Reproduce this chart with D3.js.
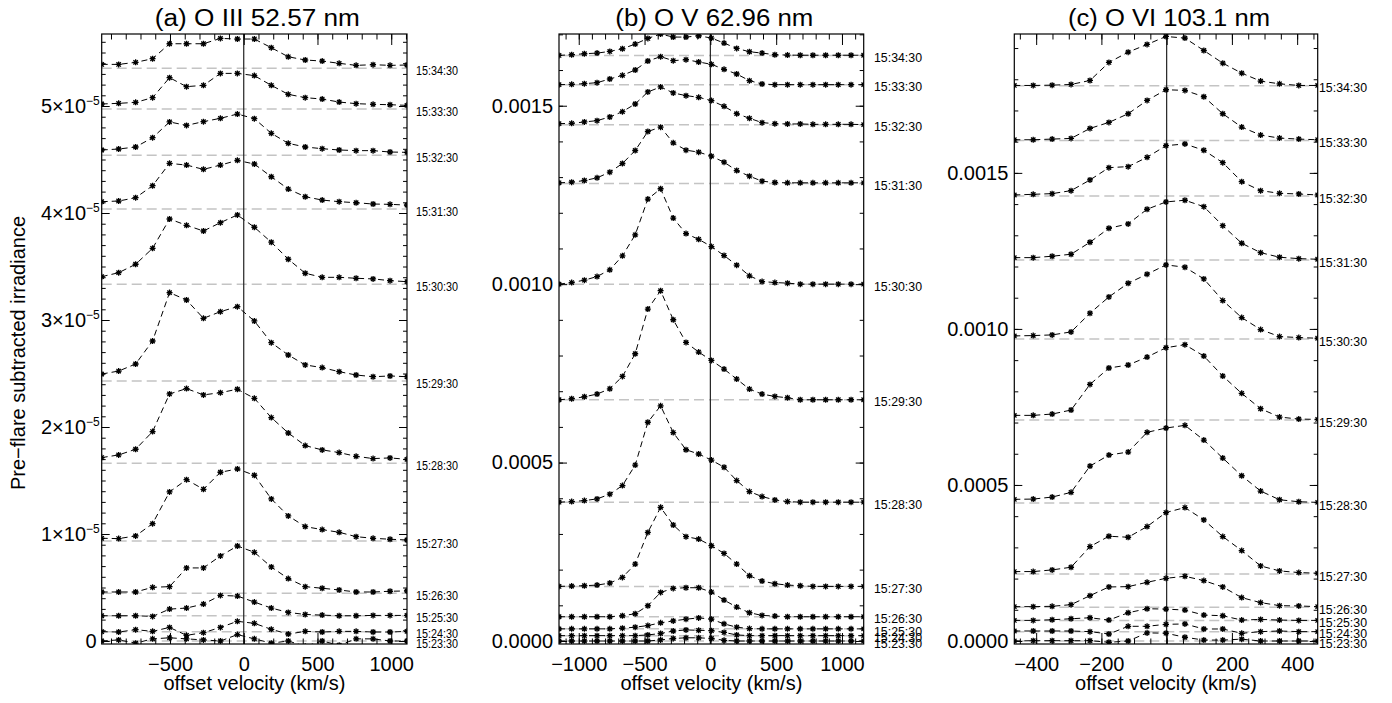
<!DOCTYPE html>
<html><head><meta charset="utf-8">
<script src="https://cdn.jsdelivr.net/npm/d3@7"></script>
<style>
body{margin:0;background:#fff}
svg{display:block}
text{font-family:"Liberation Sans",Arial,Helvetica,sans-serif;fill:#000}
</style>
</head><body>
<svg id="chart" width="1392" height="703"></svg>
<script>
// ---------------- DATA ----------------
const times = ["15:23:30","15:24:30","15:25:30","15:26:30","15:27:30","15:28:30",
               "15:29:30","15:30:30","15:31:30","15:32:30","15:33:30","15:34:30"];

// Panel (a) O III 52.57 nm  — irradiance in units of 1e-5
const velA = [-963,-848,-733,-618,-503,-388,-273,-158,-43,72,187,302,417,532,647,762,877,992,1107];
const offsetA = [0,0.087,0.236,0.446,0.935,1.661,2.430,3.334,4.037,4.539,4.972,5.352];
const profA = [
  [0,0.01,-0.02,0.02,0.03,0.02,0.01,0.0,0.06,0.02,-0.02,0.0,-0.05,0.0,-0.04,0.02,0.02,0.0,0.0],
  [0,-0.003,0.019,0.003,0.040,-0.034,-0.009,0.040,0.097,0.078,0.022,-0.022,0.003,-0.003,0.003,0.003,-0.003,-0.003,0.003],
  [0,0,0,-0.006,0.062,0.072,0.109,0.190,0.184,0.128,0.072,0.031,0.012,0.006,0,0,0.003,0.003,0.003],
  [0.012,0.012,0.012,0.056,0.062,0.237,0.237,0.349,0.442,0.383,0.246,0.137,0.062,0.047,0.031,0.012,0.012,0.019,0.022],
  [0.025,0.022,0.047,0.162,0.458,0.573,0.483,0.642,0.673,0.614,0.393,0.234,0.134,0.106,0.081,0.040,0.025,0.016,0.009],
  [0.053,0.078,0.131,0.296,0.648,0.698,0.639,0.660,0.692,0.607,0.427,0.283,0.165,0.125,0.100,0.065,0.044,0.050,0.037],
  [0.065,0.093,0.159,0.374,0.826,0.757,0.586,0.648,0.695,0.561,0.358,0.243,0.150,0.125,0.087,0.056,0.040,0.047,0.040],
  [0.071,0.108,0.187,0.336,0.610,0.551,0.498,0.576,0.648,0.533,0.393,0.234,0.103,0.065,0.065,0.056,0.050,0.034,0.024],
  [0.069,0.075,0.106,0.218,0.427,0.411,0.371,0.411,0.455,0.421,0.302,0.187,0.115,0.084,0.069,0.059,0.047,0.044,0.037],
  [0.050,0.059,0.078,0.165,0.312,0.280,0.315,0.346,0.386,0.343,0.206,0.112,0.078,0.062,0.050,0.044,0.044,0.031,0.028],
  [0.047,0.053,0.062,0.106,0.293,0.209,0.221,0.333,0.333,0.312,0.221,0.137,0.106,0.093,0.065,0.050,0.044,0.040,0.034],
  [0.037,0.037,0.056,0.090,0.230,0.230,0.230,0.280,0.274,0.274,0.193,0.108,0.078,0.068,0.047,0.028,0.034,0.028,0.031]
];

// Panel (b) O V 62.96 nm — irradiance in units of 1e-4
const velB = [-1150,-1054,-957,-861,-764,-668,-571,-475,-378,-282,-185,-89,8,104,200,297,393,490,586,683,779,876,972,1069,1165];
const offsetB = [0,0.15,0.34,0.68,1.53,3.89,6.76,10.00,12.82,14.47,15.59,16.41];
const profB = [
  [0,0,0,0,0,0,0,0,0.03,0.07,0.09,0.09,0.07,0.02,0,0,0,0,0,0,0,0,0,0,0],
  [0,0,0,0,0,0,0,0.02,0.06,0.13,0.16,0.15,0.14,0.09,0.02,0,0,0,0,0,0,0,0,0,0],
  [0,0,0,0,0,0.019,0.047,0.093,0.168,0.224,0.271,0.308,0.271,0.140,0.047,0.009,0,0,0,0,0,0,0,0,0],
  [0,0,0,0,0,0.028,0.084,0.308,0.682,0.794,0.813,0.813,0.692,0.467,0.271,0.112,0.037,0.019,0,0,0,0,0,0,0],
  [0,0.009,0.019,0.037,0.093,0.252,0.626,1.514,2.215,1.720,1.393,1.327,1.140,0.925,0.626,0.299,0.150,0.075,0.037,0.019,0,0,0,0,0],
  [0,0.017,0.045,0.092,0.224,0.466,1.04,2.24,2.70,1.95,1.47,1.35,1.18,0.98,0.606,0.297,0.157,0.064,0.017,0,0,0,0,0,0],
  [0,0.028,0.084,0.159,0.308,0.654,1.290,2.542,3.056,2.243,1.607,1.336,1.103,0.860,0.579,0.299,0.159,0.093,0.056,0,0,0,0,0,0],
  [0,0.045,0.112,0.213,0.401,0.794,1.383,2.384,2.673,1.851,1.416,1.256,1.054,0.802,0.533,0.233,0.073,0.045,0.028,0,0,0,0,0,0],
  [0.019,0.037,0.084,0.159,0.318,0.561,0.925,1.458,1.579,1.140,0.935,0.879,0.766,0.598,0.364,0.206,0.065,0.028,0.019,0.019,0.019,0.019,0.019,0.019,0.019],
  [0.028,0.037,0.075,0.112,0.215,0.364,0.579,0.916,1.056,0.888,0.813,0.766,0.673,0.514,0.308,0.178,0.056,0.028,0.019,0.019,0.009,0.009,0.009,0.009,0],
  [0,0.009,0.028,0.056,0.159,0.262,0.411,0.664,0.785,0.673,0.701,0.636,0.570,0.430,0.299,0.112,0.019,0,0,0,0,0,0,0,0],
  [0,0.019,0.047,0.065,0.112,0.187,0.318,0.477,0.598,0.514,0.514,0.551,0.486,0.346,0.196,0.103,0.065,0.019,0.009,0.005,0.005,0.005,0.005,0.005,0.005]
];

// Panel (c) O VI 103.1 nm — irradiance in units of 1e-4
const velC = [-467,-409,-351,-293,-235,-177,-118,-60,-2,56,114,172,230,288,346,405,463];
const offsetC = [0,0.30,0.66,1.08,2.15,4.42,7.08,9.68,12.21,14.26,16.04,17.79];
const profC = [
  [0,0.01,0.01,0.01,0.01,-0.04,0,0.26,0.25,0.12,0.03,0.03,0.06,0,0,0,0],
  [0.021,0.021,0.021,0.021,0,-0.075,0.171,0.171,0.235,0.246,0.085,0.085,-0.053,0,0.021,0,0],
  [0,0,0.021,0.053,0.085,0.011,0.246,0.374,0.363,0.331,0.171,0.150,0.011,0.032,0.011,0,0],
  [0.021,0.021,0.032,0.085,0.374,0.652,0.662,0.801,0.929,0.994,0.855,0.652,0.310,0.150,0.053,0.043,0.021],
  [0.075,0.075,0.128,0.214,0.876,1.207,1.175,1.517,1.966,2.126,1.731,1.197,0.748,0.256,0.096,0.043,0.021],
  [0.119,0.128,0.192,0.343,1.186,1.538,1.635,2.266,2.404,2.490,2.019,1.442,0.875,0.385,0.106,0.042,0.022],
  [0.150,0.150,0.192,0.321,1.143,1.667,1.763,2.019,2.318,2.415,2.051,1.410,0.855,0.363,0.096,0.032,0.021],
  [0.096,0.107,0.128,0.224,0.823,1.346,1.784,2.073,2.372,2.297,1.923,1.229,0.684,0.299,0.075,0.043,0.021],
  [0.074,0.074,0.119,0.183,0.567,1.016,1.154,1.625,1.859,1.913,1.708,1.099,0.535,0.234,0.087,0.042,0.022],
  [0.032,0.053,0.075,0.171,0.513,0.908,0.940,1.239,1.613,1.667,1.464,1.068,0.459,0.171,0.085,0.064,0.032],
  [0.021,0.021,0.043,0.064,0.385,0.577,0.855,1.282,1.624,1.603,1.400,0.855,0.427,0.171,0.075,0.043,0.021],
  [0.011,0.011,0.021,0.043,0.171,0.748,1.079,1.325,1.581,1.528,1.132,0.726,0.406,0.150,0.064,0.011,0.011]
];

const titles = ["(a)  O III 52.57 nm", "(b)  O V 62.96 nm", "(c)  O VI 103.1 nm"];
const xTicksA = [-500,0,500,1000];
const xTicksB = [-1000,-500,0,500,1000];
const xTicksC = [-400,-200,0,200,400];
const yTicksA = [0,1,2,3,4,5];      // ×1e-5
const yTicksB = [0,5,10,15];        // ×1e-4
const yTicksC = [0,5,10,15];        // ×1e-4
const xTitle = "offset velocity (km/s)";
const yTitle = "Pre\u2212flare subtracted irradiance";

// ---------------- LAYOUT ----------------
const svg = d3.select("#chart");
const T = 34, B = 644;
const panels = [
  {id:"a", x0:101.7, x1:407,   vel:velA, off:offsetA, prof:profA, yDom:[-0.028,5.673],
   xTicks:xTicksA, xMinorStep:100, yTicks:yTicksA, yMinorStep:0.1, title:titles[0], titleLen:205,
   labX:416, labLen:42, labSize:12.5, yPad:2},
  {id:"b", x0:559,   x1:863.7, vel:velB, off:offsetB, prof:profB, yDom:[-0.084,17.01],
   xTicks:xTicksB, xMinorStep:100, yTicks:yTicksB, yMinorStep:1, title:titles[1], titleLen:198,
   labX:874, labLen:48, labSize:12.5, yPad:6},
  {id:"c", x0:1014.3,x1:1317.7,vel:velC, off:offsetC, prof:profC, yDom:[-0.096,19.45],
   xTicks:xTicksC, xMinorStep:50, yTicks:yTicksC, yMinorStep:1, title:titles[2], titleLen:202,
   labX:1319, labLen:48, labSize:12.5, yPad:6}
];

const star = "M-3,0L3,0M0,-3L0,3M-2.2,-2.2L2.2,2.2M-2.2,2.2L2.2,-2.2";

function styleAxis(sel, size){
  sel.select(".domain").remove();
  sel.attr("font-family", null).attr("font-size", null);
  sel.selectAll("line").attr("stroke","#000").attr("stroke-width",1);
  sel.selectAll("text").attr("font-size", size).attr("fill","#000");
}

panels.forEach(p => {
  const g = svg.append("g");
  const n = p.vel.length;
  const x = d3.scaleLinear().domain([p.vel[0], p.vel[n-1]]).range([p.x0, p.x1]);
  const y = d3.scaleLinear().domain(p.yDom).range([B, T]);

  svg.append("clipPath").attr("id","clip"+p.id).append("rect")
     .attr("x",p.x0).attr("y",T).attr("width",p.x1-p.x0).attr("height",B-T);
  const plot = g.append("g").attr("clip-path",`url(#clip${p.id})`);

  // baselines
  plot.selectAll(".base").data(p.off).enter().append("line")
    .attr("x1",p.x0).attr("x2",p.x1).attr("y1",d=>y(d)).attr("y2",d=>y(d))
    .attr("stroke","#c4c4c4").attr("stroke-width",1.5).attr("stroke-dasharray","10,5");

  // zero velocity line
  plot.append("line").attr("x1",x(0)).attr("x2",x(0)).attr("y1",T).attr("y2",B)
    .attr("stroke","#222").attr("stroke-width",1.2);

  const line = d3.line().x((d,i)=>x(p.vel[i])).y(d=>y(d));
  p.prof.forEach((pr,k) => {
    const vals = pr.map(v => v + p.off[k]);
    plot.append("path").attr("d", line(vals)).attr("fill","none")
      .attr("stroke","#000").attr("stroke-width",1).attr("stroke-dasharray","6,4");
    plot.selectAll(null).data(vals).enter().append("path")
      .attr("transform",(d,i)=>`translate(${x(p.vel[i])},${y(d)})`)
      .attr("d",star).attr("stroke","#000").attr("stroke-width",1.3).attr("fill","none");
  });

  // axes
  const xMinor = d3.range(Math.ceil(p.vel[0]/p.xMinorStep)*p.xMinorStep, p.vel[n-1]+1, p.xMinorStep);
  const yMinor = d3.range(0, p.yDom[1], p.yMinorStep).map(v=>+v.toFixed(4));

  const bot = g.append("g").attr("transform",`translate(0,${B})`)
    .call(d3.axisBottom(x).tickValues(p.xTicks).tickSize(-11).tickPadding(12.8).tickFormat(d3.format("d")));
  styleAxis(bot, 20);
  styleAxis(g.append("g").attr("transform",`translate(0,${B})`)
    .call(d3.axisBottom(x).tickValues(xMinor).tickSize(-5.5).tickFormat("")), 20);
  styleAxis(g.append("g").attr("transform",`translate(0,${T})`)
    .call(d3.axisTop(x).tickValues(p.xTicks).tickSize(-11).tickFormat("")), 20);
  styleAxis(g.append("g").attr("transform",`translate(0,${T})`)
    .call(d3.axisTop(x).tickValues(xMinor).tickSize(-5.5).tickFormat("")), 20);

  const fmtY = p.id === "a" ? (d => d) : (d => (d*1e-4).toFixed(4));
  const left = g.append("g").attr("transform",`translate(${p.x0},0)`)
    .call(d3.axisLeft(y).tickValues(p.yTicks).tickSize(-8).tickPadding(p.yPad).tickFormat(fmtY));
  styleAxis(left, 20);
  if (p.id === "a") {
    left.selectAll("text").each(function(d){
      const t = d3.select(this);
      if (d === 0) { t.attr("dx", -3).text("0"); return; }
      t.text(null);
      t.append("tspan").text(d + "\u00d710");
      t.append("tspan").attr("dy",-8).attr("font-size",12).text("\u22125");
    });
  }
  styleAxis(g.append("g").attr("transform",`translate(${p.x0},0)`)
    .call(d3.axisLeft(y).tickValues(yMinor).tickSize(-4).tickFormat("")), 20);
  styleAxis(g.append("g").attr("transform",`translate(${p.x1},0)`)
    .call(d3.axisRight(y).tickValues(p.yTicks).tickSize(-8).tickFormat("")), 20);
  styleAxis(g.append("g").attr("transform",`translate(${p.x1},0)`)
    .call(d3.axisRight(y).tickValues(yMinor).tickSize(-4).tickFormat("")), 20);

  // frame
  g.append("rect").attr("x",p.x0).attr("y",T).attr("width",p.x1-p.x0).attr("height",B-T)
    .attr("fill","none").attr("stroke","#000").attr("stroke-width",1.2);

  // time labels
  g.selectAll(".lab").data(p.off).enter().append("text")
    .attr("x",p.labX).attr("y",d=>y(d)+2.3).attr("dy","0.35em")
    .attr("font-size",p.labSize).attr("textLength",p.labLen).attr("lengthAdjust","spacingAndGlyphs")
    .text((d,i)=>times[i]);

  // title
  g.append("text").attr("x",(p.x0+p.x1)/2 + 3).attr("y",25.5).attr("text-anchor","middle")
    .attr("font-size",23).attr("textLength",p.titleLen).attr("lengthAdjust","spacingAndGlyphs")
    .text(p.title);

  // x title
  g.append("text").attr("x",(p.x0+p.x1)/2).attr("y",690).attr("text-anchor","middle")
    .attr("font-size",20).text(xTitle);
});

svg.append("text").attr("transform","translate(25,353) rotate(-90)").attr("text-anchor","middle")
  .attr("font-size",20).text(yTitle);
</script>
</body></html>
